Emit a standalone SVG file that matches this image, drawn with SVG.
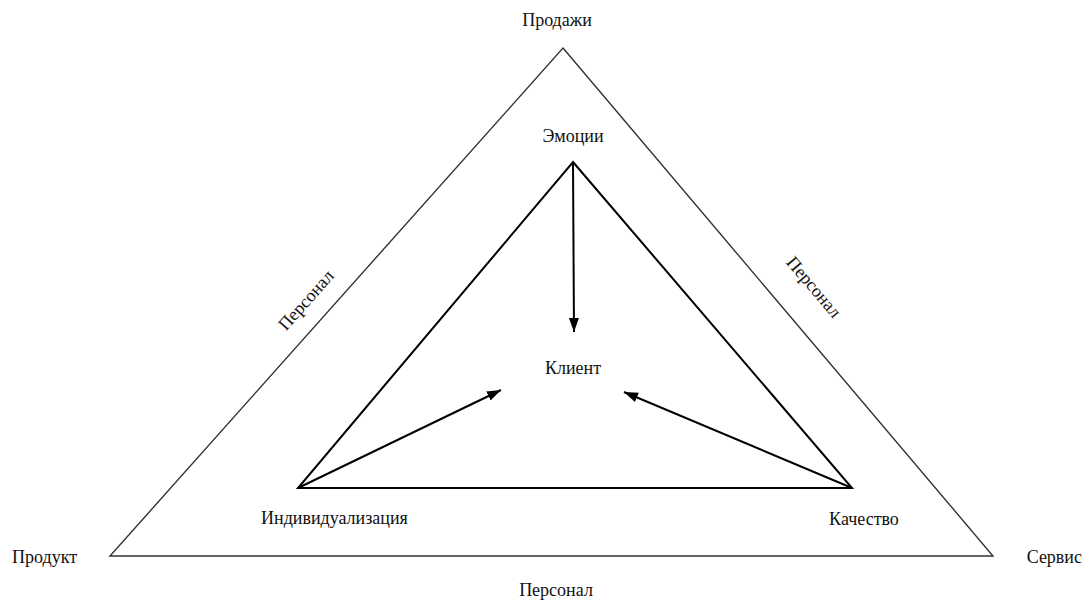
<svg xmlns="http://www.w3.org/2000/svg" width="1085" height="602" viewBox="0 0 1085 602">
<style>
  text { font-family: "Liberation Serif", "Times New Roman", serif; font-size: 18px; fill: #111; }
  .outer { fill: none; stroke: #333; stroke-width: 1.4; stroke-linejoin: miter; }
  .inner { fill: none; stroke: #000; stroke-width: 2; stroke-linejoin: miter; }
  .arrow { fill: none; stroke: #000; stroke-width: 2; marker-end: url(#ah); }
</style>
<defs>
  <marker id="ah" markerUnits="userSpaceOnUse" markerWidth="15" markerHeight="11" refX="14" refY="5.5" orient="auto">
    <path d="M0,0.5 L14,5.5 L0,10.5 z" fill="#000"/>
  </marker>
</defs>
<rect width="1085" height="602" fill="#fff"/>
<g id="outer-triangle">
  <polygon class="outer" points="563,48 993,556 110,556"/>
</g>
<g id="inner-triangle">
  <polygon class="inner" points="573,162 852,488 298,488"/>
</g>
<g id="connectors">
  <line class="arrow" x1="573" y1="163" x2="574" y2="332"/>
  <line class="arrow" x1="298" y1="488" x2="501" y2="390"/>
  <line class="arrow" x1="852" y1="488" x2="624" y2="392"/>
</g>
<g id="node-prodazhi"><text x="557" y="26" text-anchor="middle">Продажи</text></g>
<g id="node-emotsii"><text x="573" y="142" text-anchor="middle">Эмоции</text></g>
<g id="node-klient"><text x="573" y="374" text-anchor="middle">Клиент</text></g>
<g id="node-individualizatsiya"><text x="261" y="524">Индивидуализация</text></g>
<g id="node-kachestvo"><text x="864" y="525" text-anchor="middle">Качество</text></g>
<g id="node-produkt"><text x="12" y="563">Продукт</text></g>
<g id="node-servis"><text x="1082" y="563" text-anchor="end">Сервис</text></g>
<g id="label-personal-left"><text x="306" y="306" text-anchor="middle" transform="rotate(-48.3 306 300)">Персонал</text></g>
<g id="label-personal-right"><text x="814" y="293" text-anchor="middle" transform="rotate(49.8 814 287)">Персонал</text></g>
<g id="label-personal-bottom"><text x="556" y="596" text-anchor="middle">Персонал</text></g>
</svg>
